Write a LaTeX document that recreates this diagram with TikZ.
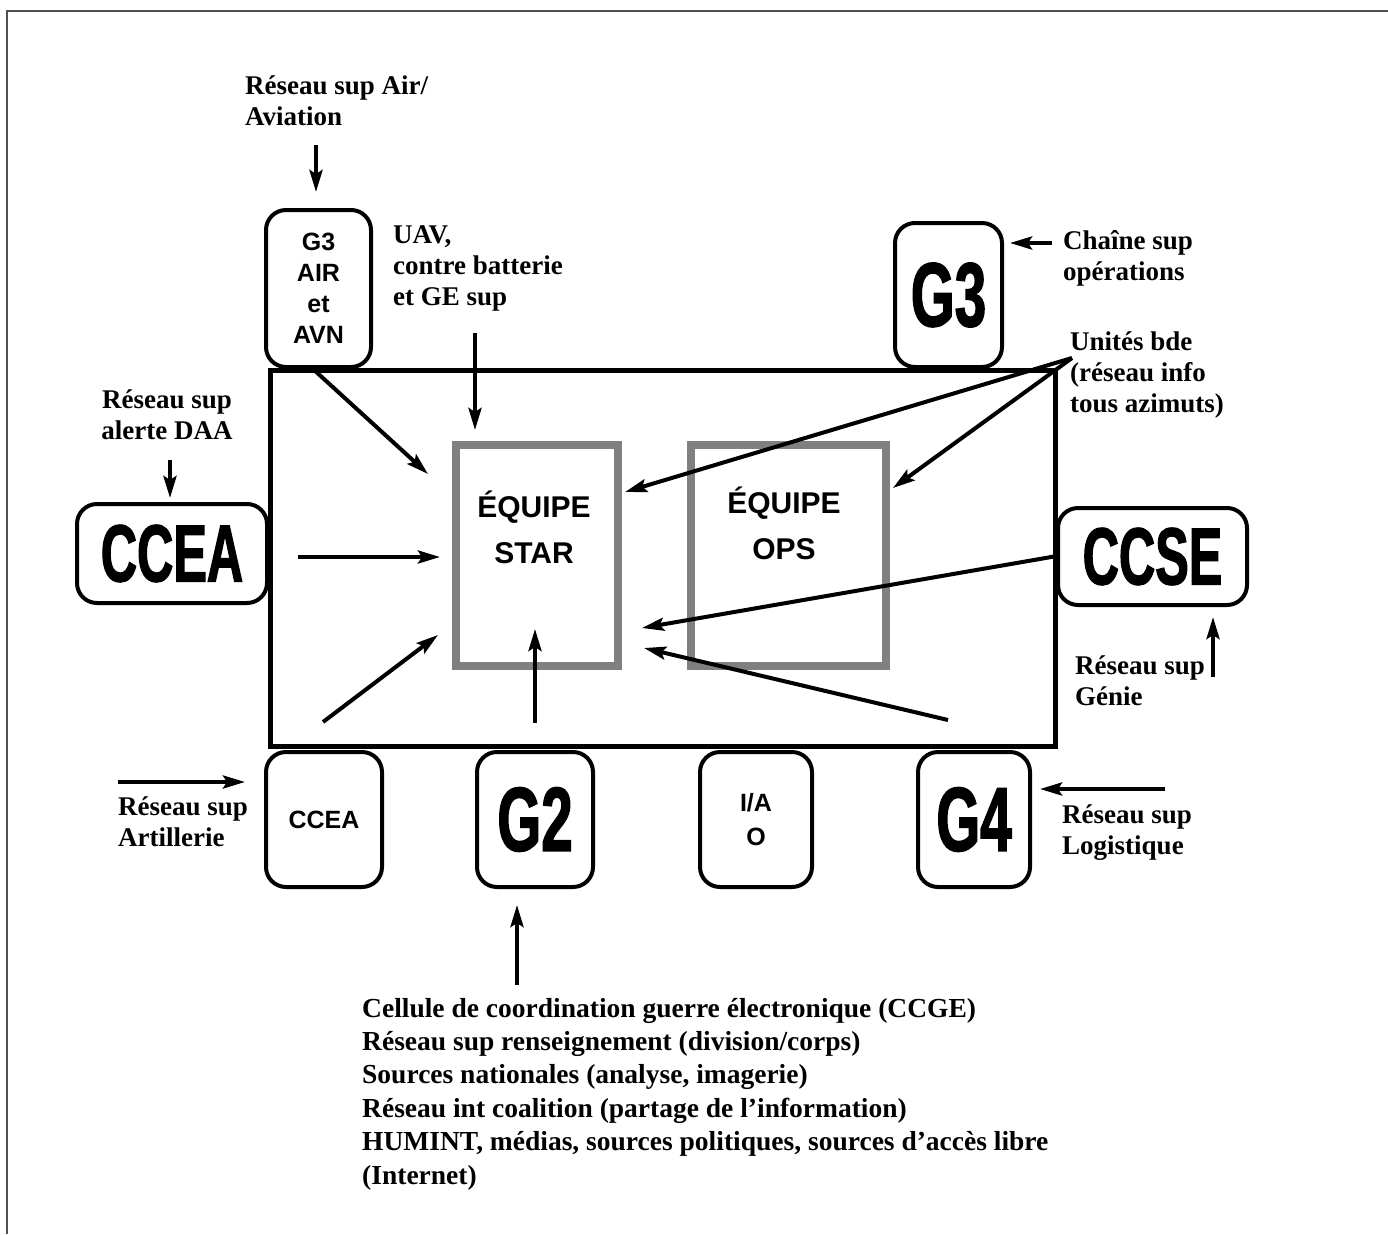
\documentclass[tikz,border=0pt]{standalone}
\usepackage{fontspec}
\setmainfont{Liberation Serif}
\newfontfamily\sansb{Liberation Sans}
\newfontfamily\condb[FakeStretch=0.62,FakeBold=1.5]{Liberation Sans}
\usetikzlibrary{arrows.meta}
\definecolor{teamgray}{RGB}{128,128,128}
\definecolor{framegray}{RGB}{80,80,80}
\tikzset{
  rbox/.style={draw, line width=4pt, rounded corners=20pt, inner sep=0pt, align=center, fill=white},
  bigtxt/.style={font=\condb\bfseries\fontsize{81}{81}\selectfont},
  hugetxt/.style={font=\condb\bfseries\fontsize{91}{91}\selectfont},
  smalltxt/.style={font=\sansb\bfseries\fontsize{25}{31}\selectfont},
  lbl/.style={font=\bfseries\fontsize{27}{31}\selectfont, inner sep=0pt, align=left},
  teambox/.style={draw=teamgray, line width=8pt, inner sep=0pt},
  teamtxt/.style={font=\sansb\bfseries\fontsize{30}{46}\selectfont, align=center, inner sep=0pt},
  arr/.style={line width=4pt, -{Stealth[length=22pt,width=13pt,inset=4pt]}},
}
\begin{document}
\begin{tikzpicture}[x=1pt,y=-1pt]
\useasboundingbox (0,0) rectangle (1388,1234);
% frame
\draw[line width=2pt, framegray] (7,1234) -- (7,11) -- (1388,11);

% main rectangle and teams
\node[draw, line width=5pt, minimum width=785pt, minimum height=376pt, inner sep=0pt] (main) at (662.5,558) {};
\node[teambox, minimum width=162pt, minimum height=221pt] (star) at (536.5,555.5) {};
\node[teambox, minimum width=195pt, minimum height=221pt] (ops) at (788.5,555.5) {};
\node[teamtxt] (startxt) at (534,527) {ÉQUIPE\\STAR};
\node[teamtxt] (opstxt) at (784,523) {ÉQUIPE\\OPS};

% rounded boxes
\node[rbox, smalltxt, minimum width=105pt, minimum height=157pt] (g3air) at (318.5,288.5) {G3\\AIR\\et\\AVN};
\node[rbox, hugetxt, minimum width=107pt, minimum height=144pt] (g3) at (948.5,295) {G3};
\node[rbox, bigtxt, minimum width=190pt, minimum height=99pt] (cceabig) at (172,553.5) {CCEA};
\node[rbox, bigtxt, minimum width=189pt, minimum height=97pt] (ccse) at (1152.5,556.5) {CCSE};
\node[rbox, smalltxt, minimum width=116pt, minimum height=135pt] (cceasm) at (324,819.5) {CCEA};
\node[rbox, hugetxt, minimum width=116pt, minimum height=135pt] (g2) at (535,819.5) {G2};
\node[rbox, smalltxt, font=\sansb\bfseries\fontsize{25}{34}\selectfont, minimum width=112pt, minimum height=135pt] (ia) at (756,819.5) {I/A\\O};
\node[rbox, hugetxt, minimum width=112pt, minimum height=135pt] (g4) at (974,819.5) {G4};

% labels
\node[lbl, anchor=west] (lair) at (245,101) {Réseau sup Air/\\Aviation};
\node[lbl, anchor=west] (luav) at (393,268) {UAV,\\contre batterie\\et GE sup};
\node[lbl, anchor=west] (lchaine) at (1063,258) {Chaîne sup\\opérations};
\node[lbl, anchor=west] (lunites) at (1070,375) {Unités bde\\(réseau info\\tous azimuts)};
\node[lbl, align=center] (ldaa) at (167,415) {Réseau sup\\alerte DAA};
\node[lbl, anchor=west] (lgenie) at (1075,681) {Réseau sup\\Génie};
\node[lbl, anchor=west] (lart) at (118,822) {Réseau sup\\Artillerie};
\node[lbl, anchor=west] (llog) at (1062,833) {Réseau sup\\Logistique};
\node[lbl, anchor=west, font=\bfseries\fontsize{27.5}{33.4}\selectfont] (lsrc) at (362,1094) {Cellule de coordination guerre électronique (CCGE)\\Réseau sup renseignement (division/corps)\\Sources nationales (analyse, imagerie)\\Réseau int coalition (partage de l’information)\\HUMINT, médias, sources politiques, sources d’accès libre\\(Internet)};

% arrow end points
\coordinate (airS) at (316,145);  \coordinate (airE) at (316,192);
\coordinate (uavS) at (475,333);  \coordinate (uavE) at (475,430);
\coordinate (g3airS) at (313,369); \coordinate (starTL) at (428,474);
\coordinate (chS) at (1052,243);  \coordinate (chE) at (1010,243);
\coordinate (apex) at (1072,358);
\coordinate (starR) at (625,492); \coordinate (opsR) at (893,488);
\coordinate (ccseW) at (1057,556); \coordinate (starR2) at (642,628);
\coordinate (brS) at (948,720);   \coordinate (starR3) at (644,648);
\coordinate (upS) at (535,723);   \coordinate (upE) at (535,629);
\coordinate (llS) at (323,722);   \coordinate (llE) at (438,635);
\coordinate (ceS) at (298,557);   \coordinate (ceE) at (440,557);
\coordinate (daaS) at (170,460);  \coordinate (daaE) at (170,498);
\coordinate (artS) at (118,782);  \coordinate (artE) at (245,782);
\coordinate (logS) at (1165,789); \coordinate (logE) at (1040,789);
\coordinate (genS) at (1213,677); \coordinate (genE) at (1213,617);
\coordinate (humS) at (517,985);  \coordinate (humE) at (517,905);

% arrows
\draw[arr] (airS) -- (airE);
\draw[arr] (uavS) -- (uavE);
\draw[arr] (g3airS) -- (starTL);
\draw[arr] (chS) -- (chE);
\draw[arr] (apex) -- (starR);
\draw[arr] (apex) -- (opsR);
\draw[arr] (ccseW) -- (starR2);
\draw[arr] (brS) -- (starR3);
\draw[arr] (upS) -- (upE);
\draw[arr] (llS) -- (llE);
\draw[arr] (ceS) -- (ceE);
\draw[arr] (daaS) -- (daaE);
\draw[arr] (artS) -- (artE);
\draw[arr] (logS) -- (logE);
\draw[arr] (genS) -- (genE);
\draw[arr] (humS) -- (humE);
\end{tikzpicture}
\end{document}
